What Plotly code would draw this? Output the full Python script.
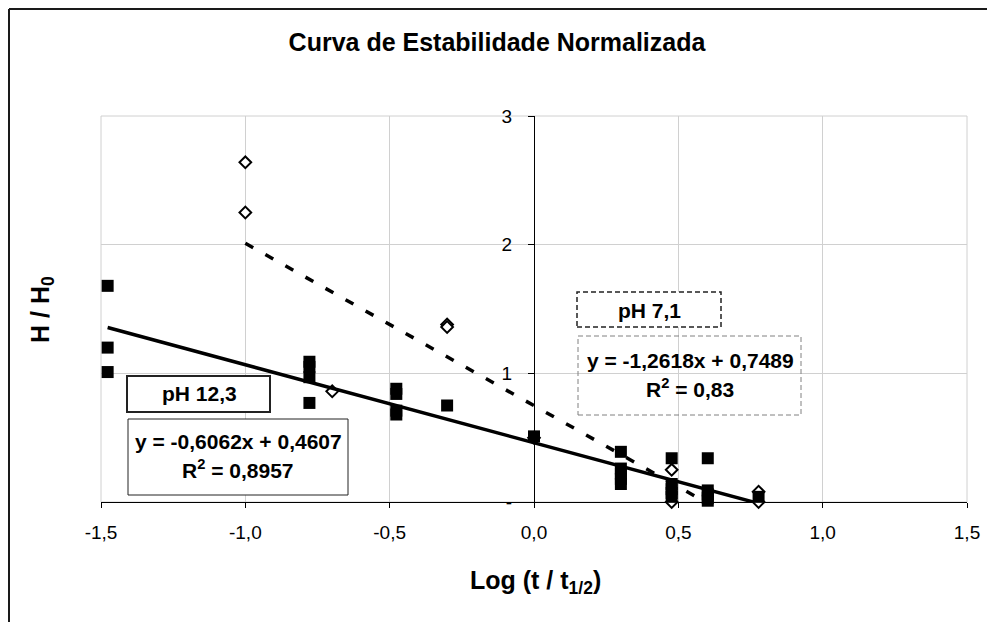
import plotly.graph_objects as go

# ---------------- data ----------------
ph12_x = [-1.477, -1.477, -1.477, -0.778, -0.778, -0.778, -0.778,
          -0.477, -0.477, -0.477, -0.477, -0.301, 0.0,
          0.301, 0.301, 0.301, 0.301, 0.301,
          0.477, 0.477, 0.477, 0.477, 0.477,
          0.602, 0.602, 0.602, 0.602, 0.602, 0.778]
ph12_y = [1.68, 1.20, 1.01, 1.09, 1.05, 0.97, 0.77,
          0.88, 0.84, 0.71, 0.68, 0.75, 0.51,
          0.39, 0.26, 0.22, 0.18, 0.14,
          0.34, 0.14, 0.10, 0.07, 0.04,
          0.34, 0.09, 0.06, 0.03, 0.01, 0.04]

ph7_x = [-1.0, -1.0, -0.699, -0.301, -0.301, 0.0, 0.477, 0.477, 0.778, 0.778]
ph7_y = [2.64, 2.25, 0.86, 1.38, 1.36, 0.50, 0.25, 0.0, 0.08, 0.0]

# trendline coefficients (as displayed)
ph12_slope, ph12_intercept = -0.6062, 0.4607
ph7_slope, ph7_intercept = -1.2618, 0.7489

x_ticks = [-1.5, -1.0, -0.5, 0.0, 0.5, 1.0, 1.5]
x_ticktext = ["-1,5", "-1,0", "-0,5", "0,0", "0,5", "1,0", "1,5"]
y_ticks = [0, 1, 2, 3]
y_ticktext = ["-", "1", "2", "3"]

# ---------------- layout geometry ----------------
# the page adds an 8px body margin, so figure px = page px - 8
OFF = 8
W, H = 995 - OFF, 622 - OFF
L, R, T, B = 101 - OFF, 967 - OFF, 116 - OFF, 502 - OFF
PW, PH = R - L, B - T


def px(x):  # page pixel -> paper fraction
    return (x - OFF - L) / PW


def py(y):
    return (B - (y - OFF)) / PH


FONT = "Liberation Sans, Arial, sans-serif"

fig = go.Figure()

fig.add_trace(go.Scatter(
    x=ph7_x, y=ph7_y, mode="markers", name="pH 7,1",
    marker=dict(symbol="diamond", size=9, color="white",
                line=dict(color="black", width=2)),
    cliponaxis=False, showlegend=False))

fig.add_trace(go.Scatter(
    x=ph12_x, y=ph12_y, mode="markers", name="pH 12,3",
    marker=dict(symbol="square", size=12, color="black",
                line=dict(color="black", width=0)),
    cliponaxis=False, showlegend=False))

t12_x = [min(ph12_x), max(ph12_x)]
t12_y = [ph12_slope * v + ph12_intercept for v in t12_x]
t7_x = [min(ph7_x), max(ph7_x)]
t7_y = [ph7_slope * v + ph7_intercept for v in t7_x]

fig.add_trace(go.Scatter(
    x=t12_x, y=t12_y, mode="lines",
    line=dict(color="black", width=3.5), showlegend=False, hoverinfo="skip"))
fig.add_trace(go.Scatter(
    x=t7_x, y=t7_y, mode="lines",
    line=dict(color="black", width=3.5, dash="9px,14px"),
    showlegend=False, hoverinfo="skip"))

shapes = [
    # plot-area border (gray)
    dict(type="rect", xref="paper", yref="paper", x0=0, x1=1, y0=0, y1=1,
         line=dict(color="#d0d0d0", width=1), layer="below"),
    # chart frame (top and left edges visible)
    dict(type="line", xref="paper", yref="paper", x0=px(9), x1=px(992),
         y0=py(9), y1=py(9), line=dict(color="#1a1a1a", width=2)),
    dict(type="line", xref="paper", yref="paper", x0=px(9), x1=px(9),
         y0=py(9), y1=py(622), line=dict(color="#1a1a1a", width=2)),
    # label boxes
    dict(type="rect", xref="paper", yref="paper", x0=px(127), x1=px(270),
         y0=py(412), y1=py(376), line=dict(color="#222", width=2),
         fillcolor="white"),
    dict(type="rect", xref="paper", yref="paper", x0=px(128), x1=px(348),
         y0=py(495), y1=py(419), line=dict(color="#222", width=1),
         fillcolor="white"),
    dict(type="rect", xref="paper", yref="paper", x0=px(577), x1=px(721),
         y0=py(327), y1=py(292), line=dict(color="#222", width=1.5, dash="5px,3px"),
         fillcolor="white"),
    dict(type="rect", xref="paper", yref="paper", x0=px(578), x1=px(801),
         y0=py(415), y1=py(336), line=dict(color="#808080", width=1, dash="5px,3px")),
]

bold = dict(family=FONT, size=21, color="black", weight="bold")


def ann(text, x, y, **kw):
    d = dict(text=text, xref="paper", yref="paper", x=px(x), y=py(y),
             xanchor="center", yanchor="middle", showarrow=False, font=bold)
    d.update(kw)
    return d


annotations = [
    ann("pH 12,3", 199, 393),
    ann("y = -0,6062x + 0,4607", 238, 441),
    ann("R<sup>2</sup> = 0,8957", 238, 469),
    ann("pH 7,1", 649, 310),
    ann("y = -1,2618x + 0,7489", 690, 360),
    ann("R<sup>2</sup> = 0,83", 690, 388),
    ann("Log (t / t<sub>1/2</sub>)", 535, 582,
        font=dict(family=FONT, size=25, color="black", weight="bold")),
    ann("H / H<sub>0</sub>", 42, 310, textangle=-90,
        font=dict(family=FONT, size=25, color="black", weight="bold")),
]

fig.update_layout(
    width=W, height=H,
    margin=dict(l=L, r=W - R, t=T, b=H - B, pad=0),
    paper_bgcolor="white", plot_bgcolor="white",
    title=dict(text="Curva de Estabilidade Normalizada",
               x=(497 - OFF) / W, xref="container",
               y=1 - (42 - OFF) / H, yref="container",
               xanchor="center", yanchor="middle",
               font=dict(family=FONT, size=25, color="black", weight="bold")),
    shapes=shapes, annotations=annotations, showlegend=False,
    xaxis=dict(range=[-1.5, 1.5], tickvals=x_ticks, ticktext=x_ticktext,
               showline=True, linecolor="black", linewidth=1,
               ticks="outside", ticklen=5, tickcolor="black",
               showgrid=True, gridcolor="#d0d0d0", gridwidth=1, zeroline=False,
               tickfont=dict(family=FONT, size=19, color="black"),
               ticklabelstandoff=8,
               layer="below traces", fixedrange=True),
    yaxis=dict(range=[0, 3], tickvals=y_ticks, ticktext=y_ticktext,
               anchor="free", position=0.5,
               showline=True, linecolor="black", linewidth=1,
               ticks="outside", ticklen=6, tickcolor="black",
               showgrid=True, gridcolor="#d0d0d0", gridwidth=1, zeroline=False,
               tickfont=dict(family=FONT, size=19, color="black"),
               ticklabelstandoff=12,
               layer="below traces", fixedrange=True),
)

fig.write_html("out.html")
